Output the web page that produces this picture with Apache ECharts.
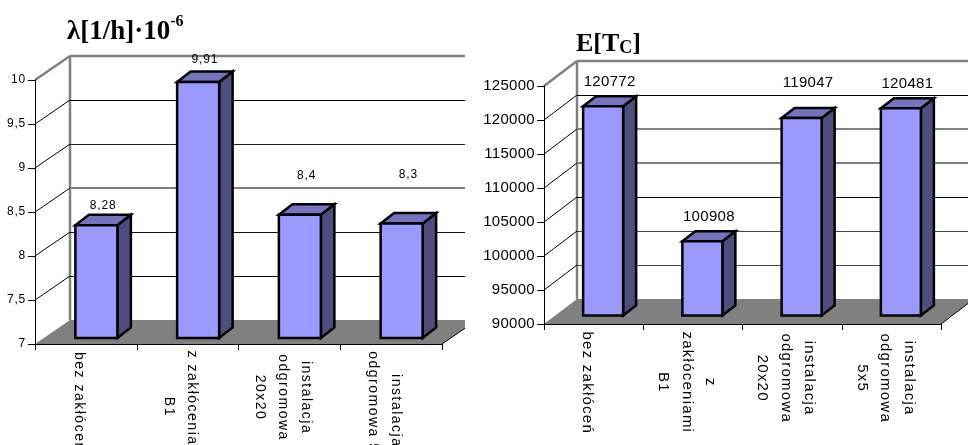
<!DOCTYPE html>
<html>
<head>
<meta charset="utf-8">
<style>html,body{margin:0;padding:0;background:#fff}#c{width:968px;height:445px}</style>
<script src="https://cdn.jsdelivr.net/npm/echarts@6/dist/echarts.min.js"></script>
</head>
<body>
<div id="c"></div>
<script>
// Failure rate panel
const rateCategories = ['bez zakłóceń', 'z zakłóceniami\nB1', 'instalacja\nodgromowa\n20x20', 'instalacja\nodgromowa 5x5'];
const rateValues = [8.28, 9.91, 8.4, 8.3];
const rateTicks = [7, 7.5, 8, 8.5, 9, 9.5, 10];
// Expected time panel
const timeCategories = ['bez zakłóceń', 'z\nzakłóceniami\nB1', 'instalacja\nodgromowa\n20x20', 'instalacja\nodgromowa\n5x5'];
const timeValues = [120772, 100908, 119047, 120481];
const timeTicks = [90000, 95000, 100000, 105000, 110000, 115000, 120000, 125000];

const FRONT = '#9999ff', TOP = '#7373bf', SIDE = '#4d4d80', WALL = '#808080';

const panels = [
  { ticks: rateTicks, cats: rateCategories, vals: rateValues, min: 7, max: 10, step: 0.5,
    grid: { left: 35, top: 80, width: 407, height: 264, outerBoundsMode: 'none' },
    depth: [35, 24], clipX: 465, bar: { dx: 10.5, dy: 6, w: 42, sx: 13.5, sy: 10.5 },
    lift: [9.5, 11.5, 29, 38], lines: ['#000', '#000', '#111', WALL, '#222', '#000', WALL],
    axisFont: 12, catFont: 14, catLine: 23, catPad: 14, catMargin: 17, catSpacing: 1.5, valueFont: 12, numSpacing: 0.8 },
  { ticks: timeTicks, cats: timeCategories, vals: timeValues, min: 90000, max: 125000, step: 5000,
    grid: { left: 544, top: 86, width: 397, height: 238, outerBoundsMode: 'none' },
    depth: [33, 25], clipX: 968, bar: { dx: 9.5, dy: 8.5, w: 40, sx: 13, sy: 10 },
    lift: [14, 14, 25, 14.5], lines: ['#000', '#444', '#444', '#000', WALL, WALL, '#000', WALL],
    axisFont: 15, catFont: 15, catLine: 23.5, catPad: 12, catMargin: 15, catSpacing: 1.25, valueFont: 15, numSpacing: 0.3 }
];

const decimal = v => String(v).replace('.', ',');

// Captions and numbers are tracked out; canvas text has no style hook for that in the
// label options, so the spacing is applied when these strings are painted.
const tracking = new Map();
panels.forEach(p => {
  p.cats.forEach(c => c.split('\n').forEach(t => tracking.set(p.catFont + '|' + t, p.catSpacing)));
  p.vals.concat(p.ticks).forEach(v => tracking.set(p.valueFont + '|' + decimal(v), p.numSpacing));
});
const paintText = CanvasRenderingContext2D.prototype.fillText;
CanvasRenderingContext2D.prototype.fillText = function (t, x, y, w) {
  const m = /(\d+)px/.exec(this.font);
  const s = m && tracking.get(m[1] + '|' + t);
  if (s) this.letterSpacing = s + 'px';
  w === undefined ? paintText.call(this, t, x, y) : paintText.call(this, t, x, y, w);
  if (s) this.letterSpacing = '0px';
};

// Back wall, floor and the receding gridlines of the pseudo-3D box
function frameRenderer(p) {
  return function (params, api) {
    const i = params.dataIndex;
    const tick = api.value(1);
    const y = api.coord([0, tick])[1];
    const sys = params.coordSys;
    const [dx, dy] = p.depth;
    const x0 = sys.x, x1 = sys.x + sys.width;
    const backEnd = Math.min(x1 + dx, p.clipX);
    const children = [];
    const isTop = tick === p.max;
    const isFloor = tick === p.min;
    if (isFloor) {
      const cut = backEnd - x1;
      children.push({ type: 'polygon', shape: { points: [[x0, y], [x1, y], [backEnd, y - dy * cut / dx], [backEnd, y - dy], [x0 + dx, y - dy]] },
        style: { fill: WALL } });
      children.push({ type: 'line', shape: { x1: x1, y1: y, x2: backEnd, y2: y - dy * cut / dx }, style: { stroke: '#000', lineWidth: 1 } });
      children.push({ type: 'line', shape: { x1: x0 + dx, y1: y - dy, x2: x0 + dx, y2: sys.y - dy }, style: { stroke: WALL, lineWidth: 2.5 } });
    } else {
      const tone = p.lines[i];
      const back = tone === WALL ? y - dy : y - dy + 0.5;
      children.push({ type: 'line', shape: { x1: x0, y1: y, x2: x0 + dx, y2: y - dy },
        style: { stroke: isTop ? WALL : '#000', lineWidth: isTop ? 2.5 : 1 } });
      children.push({ type: 'line', shape: { x1: x0 + dx, y1: back, x2: backEnd, y2: back },
        style: { stroke: tone, lineWidth: isTop ? 2.5 : tone === WALL ? 2 : 1 } });
    }
    return { type: 'group', children };
  };
}

// One box per category: front, top and side faces plus the value above it
function barRenderer(p) {
  return function (params, api) {
    const i = params.dataIndex;
    const v = api.value(1);
    const top = api.coord([i, v]);
    const base = api.coord([i, p.min]);
    const b = p.bar;
    const xl = top[0] + b.dx - b.w / 2, xr = xl + b.w;
    const yt = top[1] - b.dy, yb = base[1] - b.dy;
    const edge = { stroke: '#000', lineWidth: 2.5, lineJoin: 'miter' };
    return { type: 'group', children: [
      { type: 'polygon', shape: { points: [[xr, yt], [xr + b.sx, yt - b.sy], [xr + b.sx, yb - b.sy], [xr, yb]] }, style: { fill: SIDE, ...edge } },
      { type: 'polygon', shape: { points: [[xl, yt], [xl + b.sx, yt - b.sy], [xr + b.sx, yt - b.sy], [xr, yt]] }, style: { fill: TOP, ...edge } },
      { type: 'rect', shape: { x: xl, y: yt, width: b.w, height: yb - yt }, style: { fill: FRONT, ...edge } },
      { type: 'text', style: { text: decimal(v), x: (xl + xr) / 2 + b.sx / 2, y: yt - b.sy - p.lift[i],
        align: 'center', verticalAlign: 'middle', fill: '#000', font: p.valueFont + 'px "Liberation Sans"' } }
    ] };
  };
}

const grid = [], xAxis = [], yAxis = [], series = [];
panels.forEach((p, n) => {
  grid.push(p.grid);
  xAxis.push({ gridIndex: n, type: 'category', data: p.cats, z: 3,
    axisLine: { lineStyle: { color: '#000', width: 1 } },
    axisTick: { show: true, length: 6, alignWithLabel: false, lineStyle: { color: '#000' } },
    axisLabel: { interval: 0, rotate: -90, margin: p.catMargin, align: 'left', verticalAlign: 'middle',
      padding: [p.catPad, 0, 0, 0],
      formatter: s => s.split('\n').map(t => '{c|' + t + '}').join('\n'),
      rich: { c: { align: 'center', color: '#000', fontFamily: 'Liberation Sans', fontSize: p.catFont, lineHeight: p.catLine } } } });
  yAxis.push({ gridIndex: n, type: 'value', min: p.min, max: p.max, interval: p.step, z: 3,
    splitLine: { show: false },
    axisLine: { show: true, lineStyle: { color: '#000', width: 1 } },
    axisTick: { show: true, length: 7, lineStyle: { color: '#000' } },
    axisLabel: { margin: 9, color: '#000', fontFamily: 'Liberation Sans', fontSize: p.axisFont, formatter: decimal } });
  series.push({ type: 'custom', xAxisIndex: n, yAxisIndex: n, z: 1, silent: true,
    data: p.ticks.map(t => [0, t]), encode: { x: 0, y: 1 }, renderItem: frameRenderer(p) });
  series.push({ type: 'custom', xAxisIndex: n, yAxisIndex: n, z: 4, silent: true,
    data: p.vals.map((v, i) => [i, v]), encode: { x: 0, y: 1 }, renderItem: barRenderer(p) });
});

const serif = { fontFamily: 'Liberation Serif', fontWeight: 'bold', color: '#000' };
const chart = echarts.init(document.getElementById('c'));
chart.setOption({
  animation: false,
  backgroundColor: '#fff',
  title: [
    { left: 67, top: 12, padding: 0, text: '{a|λ[1/h]·10}{b|-6}', textStyle: { rich: {
        a: { ...serif, fontSize: 27, lineHeight: 34, verticalAlign: 'bottom' },
        b: { ...serif, fontSize: 16, lineHeight: 34, padding: [0, 0, 16, 0], verticalAlign: 'bottom' } } } },
    { left: 576, top: 27, padding: 0, text: '{a|E[T}{b|C}{a|]}', textStyle: { rich: {
        a: { ...serif, fontSize: 26, lineHeight: 30, verticalAlign: 'bottom' },
        b: { ...serif, fontSize: 18, lineHeight: 30, padding: [6, 0, 0, 0], verticalAlign: 'bottom' } } } }
  ],
  grid, xAxis, yAxis, series
});
</script>
</body>
</html>
